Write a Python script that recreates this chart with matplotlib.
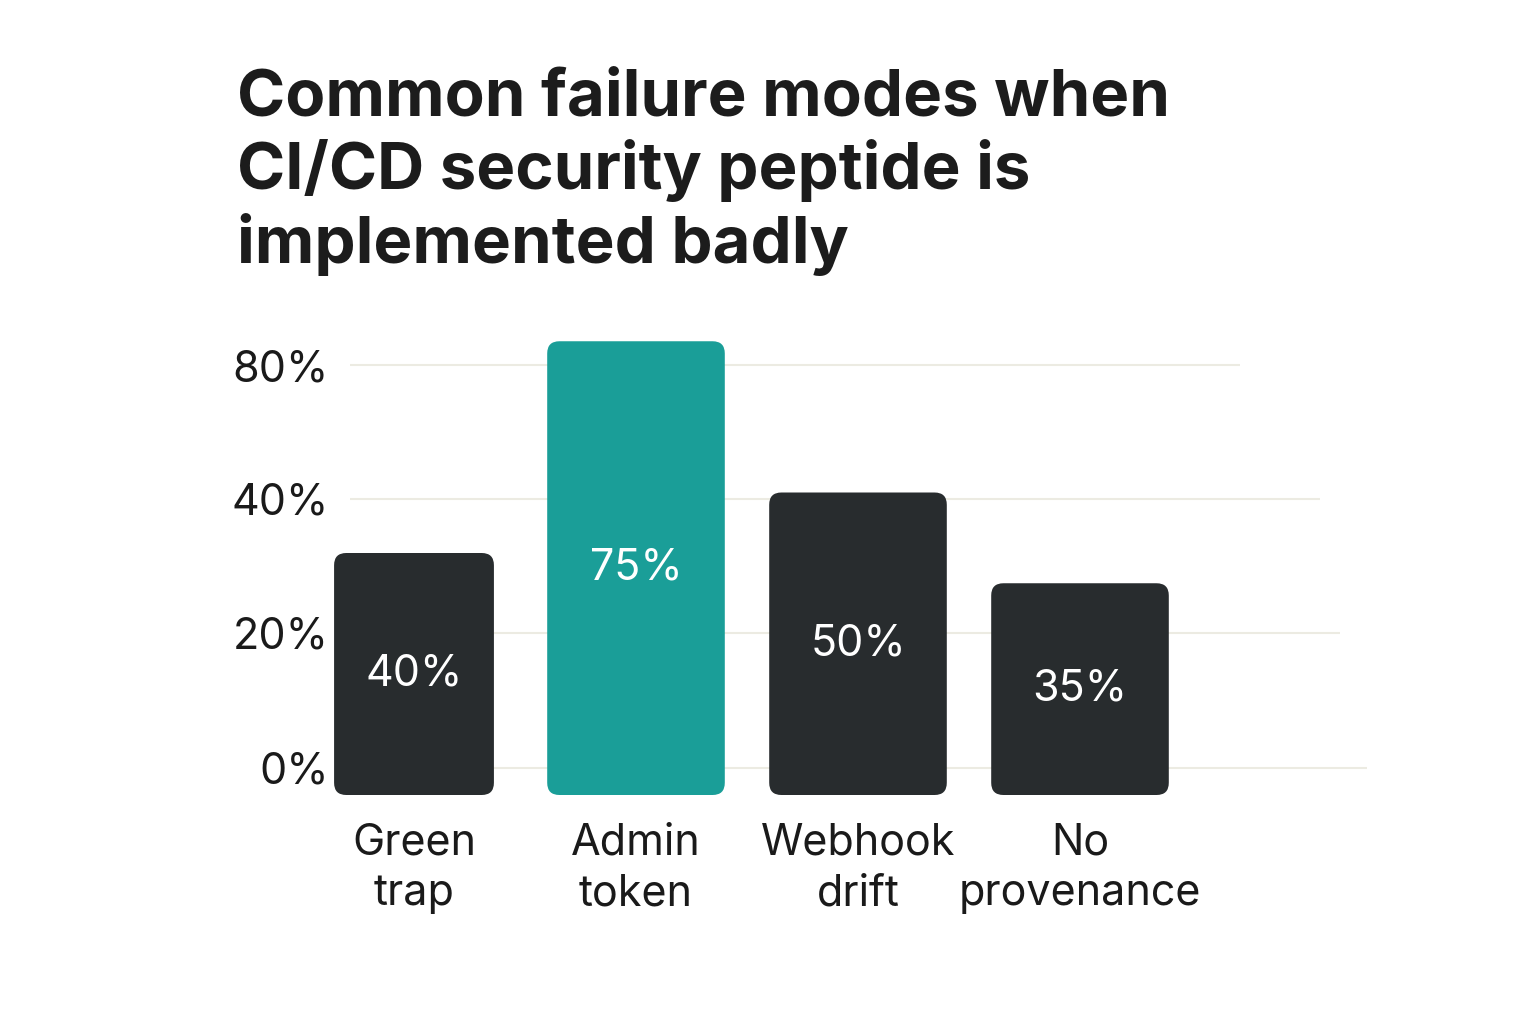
import matplotlib.pyplot as plt
from matplotlib.patches import FancyBboxPatch

# data
categories = ["Green\ntrap", "Admin\ntoken", "Webhook\ndrift", "No\nprovenance"]
values = [40, 75, 50, 35]
bar_colors = ["#282c2e", "#1a9e98", "#282c2e", "#282c2e"]
bar_widths = [0.72, 0.8, 0.8, 0.8]
tick_labels = ["0%", "20%", "40%", "80%"]
tick_pos = [4.5, 26.8, 49.0, 71.0]
grid_ends = [4.31, 4.17, 4.08, 3.72]

title = "Common failure modes when\nCI/CD security peptide is\nimplemented badly"

plt.rcParams['font.family'] = ['Inter', 'DejaVu Sans']

px_x = 222.0   # px per category
px_y = 6.05    # px per percent
left_px, right_px = 300, 1367
fig = plt.figure(figsize=(15.36, 10.24), dpi=100)
ax = fig.add_axes([left_px/1536, (1024-795)/1024, (right_px-left_px)/1536, 496/1024])
x0 = (left_px - 414) / px_x
ax.set_xlim(x0, x0 + (right_px - left_px) / px_x)
ax.set_ylim(0, 496 / px_y)

# gridlines, each a bit different in length like the original
gx0 = (350 - 414) / px_x
for y, xe in zip(tick_pos, grid_ends):
    ax.hlines(y, gx0, xe, color="#ecebe2", linewidth=1.5, zorder=0)

x = range(len(values))
bars = ax.bar(x, values, width=bar_widths, color=bar_colors)

# swap plain bars for rounded ones
for b, c in zip(bars, bar_colors):
    bx, by = b.get_x(), b.get_y()
    w, h = b.get_width(), b.get_height()
    b.remove()
    r = 0.055
    p = FancyBboxPatch((bx, by), w, h, boxstyle="round,pad=0,rounding_size=%f" % r,
                       mutation_aspect=px_x/px_y, facecolor=c, edgecolor="none", zorder=2)
    ax.add_patch(p)
    ax.text(bx + w/2, by + h/2, "%d%%" % (by + h), ha="center", va="center",
            color="white", fontsize=31, zorder=3)

ax.set_yticks(tick_pos)
ax.set_yticklabels(tick_labels, fontsize=31, color="#1a1a1a")
ax.tick_params(axis="y", length=0, pad=-21)
ax.set_xticks(list(x))
ax.set_xticklabels(categories, fontsize=31, color="#1a1a1a", linespacing=1.3)
ax.tick_params(axis="x", length=0, pad=20)
for s in ax.spines.values():
    s.set_visible(False)

fig.text(237/1536, 1 - 68/1024, title, ha="left", va="top", fontsize=47,
         fontweight="bold", color="#1c1c1c", linespacing=1.22)

fig.savefig("out.png", dpi=100, facecolor="white")
